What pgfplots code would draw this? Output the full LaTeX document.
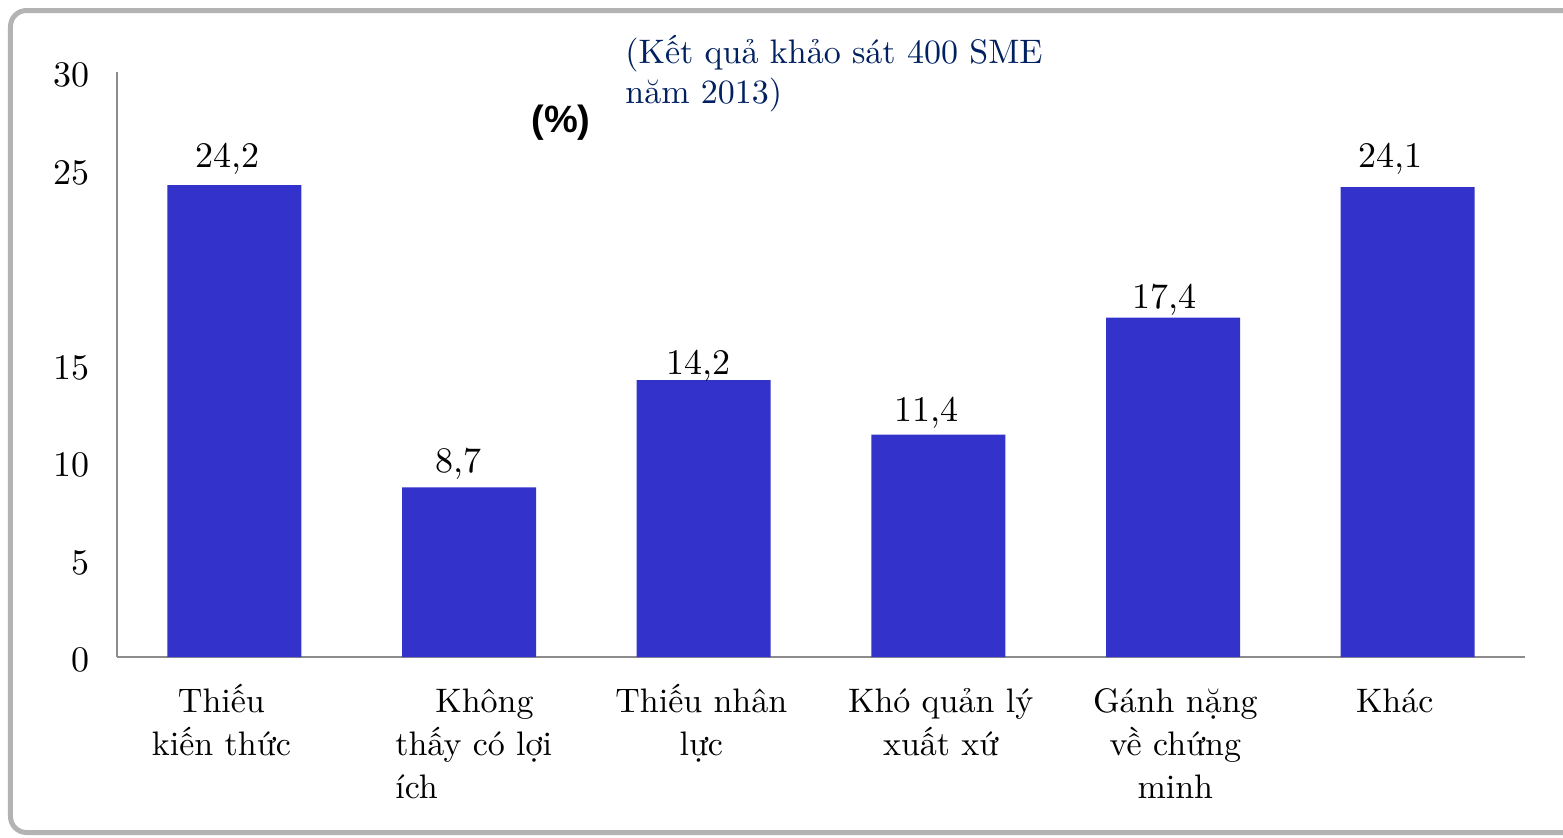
\documentclass[border=0pt]{standalone}
\usepackage{fontspec}
\setmainfont{lmroman10-regular}[Extension=.otf, BoldFont=lmroman10-bold]
\usepackage{pgfplots}
\usepackage{pgfplotstable}
\pgfplotsset{compat=1.18}
\newfontfamily\arialb{Liberation Sans}
\definecolor{barblue}{HTML}{3333CC}
\definecolor{navy}{HTML}{002060}
\definecolor{framegray}{HTML}{B3B3B3}
\definecolor{axgray}{HTML}{8C8C8C}

\pgfplotstableread{
x y dx dy
0 24.2 -3.5 9
1 8.7 -5.25 7.5
2 14.2 -2.75 3
3 11.4 -6 6.5
4 17.4 -4.25 4.5
5 24.1 -8.5 10
}\datatable

\begin{document}
\begin{tikzpicture}
\useasboundingbox (-58.5pt,-90pt) rectangle (723pt,328.5pt);
\begin{scope}
\clip (-58.5pt,-90pt) rectangle (723pt,328.5pt);
\draw[framegray, line width=2.5pt, rounded corners=8pt] (-53.25pt,-87.75pt) rectangle (740pt,323.25pt);
\end{scope}
\begin{axis}[
  at={(0,0)}, anchor=south west,
  scale only axis, width=704pt, height=292.5pt,
  xmin=-0.5, xmax=5.5, ymin=0, ymax=30,
  clip=false,
  /pgf/number format/assume math mode=true,
  axis lines=left,
  axis line style={axgray, line width=0.8pt, -},
  major tick length=0pt,
  ytick={0,5,10,15,25,30},
  yticklabel style={font=\fontsize{18}{20}\selectfont, anchor=east, inner sep=0pt, xshift=-13.5pt, yshift=-1.5pt},
  xtick={-0.055,1.02,1.99,3.01,4.01,4.945},
  xticklabels={
    {\rule{0pt}{20pt}Thiếu\\kiến thức},
    {\begin{tabular}{@{}l@{}}\rule{0pt}{20pt}\hspace*{20pt}Không\\thấy có lợi\\ích\end{tabular}},
    {\rule{0pt}{20pt}Thiếu nhân\\lực},
    {\rule{0pt}{20pt}Khó quản lý\\xuất xứ},
    {\rule{0pt}{20pt}Gánh nặng\\về chứng\\minh},
    {\rule{0pt}{20pt}Khác}
  },
  xticklabel style={font=\fontsize{17}{21.5}\selectfont, align=center, anchor=north, inner sep=0pt, yshift=-7.5pt},
  ybar, bar width=67pt,
]
\addplot[fill=barblue, draw=none,
  visualization depends on={\thisrow{dx} \as \dx},
  visualization depends on={\thisrow{dy} \as \dy},
  nodes near coords={\pgfmathprintnumber[fixed, fixed zerofill, precision=1, use comma, assume math mode=true]{\pgfplotspointmeta}},
  nodes near coords style={font=\fontsize{18}{20}\selectfont, text=black, anchor=base, inner sep=0pt, xshift=\dx pt, yshift=\dy pt},
] table[x=x, y=y] {\datatable};
\end{axis}
\node[anchor=base west, inner sep=0pt, text=navy, font=\fontsize{17}{20}\selectfont] at (254pt,297pt) {(Kết quả khảo sát 400 SME};
\node[anchor=base west, inner sep=0pt, text=navy, font=\fontsize{17}{20}\selectfont] at (254pt,277pt) {năm 2013)};
\node[inner sep=0pt, font=\arialb\bfseries\fontsize{19}{21}\selectfont] at (222pt,267pt) {(\%)};
\end{tikzpicture}
\end{document}
